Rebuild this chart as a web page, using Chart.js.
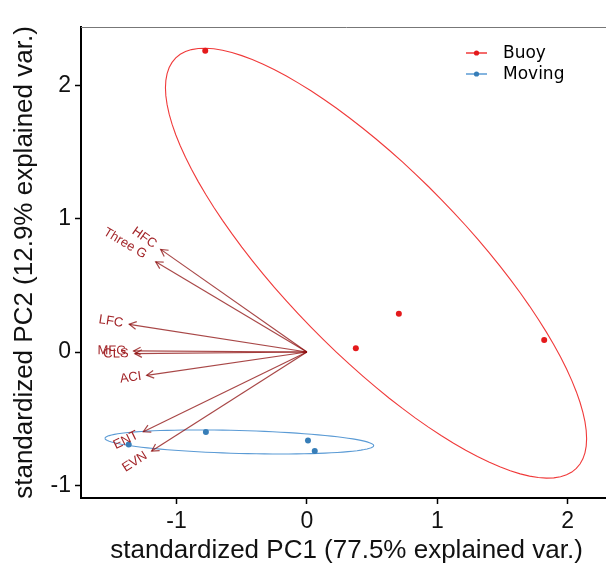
<!DOCTYPE html>
<html>
<head>
<meta charset="utf-8">
<title>PCA biplot</title>
<script src="https://cdn.jsdelivr.net/npm/chart.js@4.4.0/dist/chart.umd.min.js"></script>
<style>
  html, body { margin: 0; padding: 0; background: #fff; overflow: hidden; }
  #wrap { width: 620px; height: 575px; }
</style>
</head>
<body>
<div id="wrap"><canvas id="pca" width="620" height="575"></canvas></div>
<script>
// group scores (standardized PC1 / PC2)
var groups = ['Buoy', 'Moving'];
var buoyPC1 = [-0.78, 0.705, 0.375, 1.82];
var buoyPC2 = [2.26, 0.287, 0.028, 0.09];
var movingPC1 = [-0.775, 0.008, 0.06, -1.367];
var movingPC2 = [-0.60, -0.663, -0.743, -0.693];

// variable loadings (arrow tips)
var varNames = ['HFC', 'Three G', 'LFC', 'MFG', 'CLS', 'ACI', 'ENT', 'EVN'];
var loadPC1 = [-1.122, -1.16, -1.363, -1.33, -1.32, -1.229, -1.255, -1.191];
var loadPC2 = [0.77, 0.677, 0.208, 0.008, -0.012, -0.175, -0.598, -0.743];

var xTicks = [-1, 0, 1, 2];
var yTicks = [-1, 0, 1, 2];
var ellipseProb = 0.68;

var groupColors = ['#E41A1C', '#377EB8'];
var ellipseColors = ['#F03A3A', '#5B9BD5'];
var arrowColor = 'rgba(139,10,10,0.75)';
var labelColor = '#a3262a';

function pts(xs, ys) {
  return xs.map(function (v, i) { return { x: v, y: ys[i] }; });
}

// normal data ellipse, like ggbiplot (mean + chol(cov) * sqrt(qchisq))
function dataEllipse(xs, ys) {
  var n = xs.length, mx = 0, my = 0;
  for (var i = 0; i < n; i++) { mx += xs[i]; my += ys[i]; }
  mx /= n; my /= n;
  var sxx = 0, syy = 0, sxy = 0;
  for (var j = 0; j < n; j++) {
    sxx += (xs[j] - mx) * (xs[j] - mx);
    syy += (ys[j] - my) * (ys[j] - my);
    sxy += (xs[j] - mx) * (ys[j] - my);
  }
  sxx /= (n - 1); syy /= (n - 1); sxy /= (n - 1);
  var r11 = Math.sqrt(sxx), r12 = sxy / r11, r22 = Math.sqrt(syy - r12 * r12);
  var ed = Math.sqrt(-2 * Math.log(1 - ellipseProb));
  var out = [];
  for (var k = 0; k <= 100; k++) {
    var t = -Math.PI + 2 * Math.PI * k / 100;
    var c = Math.cos(t), s = Math.sin(t);
    out.push({ x: mx + ed * c * r11, y: my + ed * (c * r12 + s * r22) });
  }
  return out;
}

var ellipses = [dataEllipse(buoyPC1, buoyPC2), dataEllipse(movingPC1, movingPC2)];

var datasets = [
  { label: groups[0], data: pts(buoyPC1, buoyPC2), backgroundColor: groupColors[0], borderWidth: 0, pointRadius: 3 },
  { label: groups[1], data: pts(movingPC1, movingPC2), backgroundColor: groupColors[1], borderWidth: 0, pointRadius: 3 }
];
varNames.forEach(function (nm, i) {
  datasets.push({
    label: nm,
    data: [{ x: 0, y: 0 }, { x: loadPC1[i], y: loadPC2[i] }],
    showLine: true,
    borderColor: arrowColor,
    borderWidth: 1.2,
    pointRadius: 0
  });
});

var biplotPlugin = {
  id: 'biplot',
  beforeDatasetsDraw: function (chart) {
    var ctx = chart.ctx, xs = chart.scales.x, ys = chart.scales.y, a = chart.chartArea;
    ctx.save();
    // light top frame line
    ctx.strokeStyle = '#777';
    ctx.lineWidth = 1;
    ctx.beginPath();
    ctx.moveTo(a.left, a.top + 0.5);
    ctx.lineTo(a.right, a.top + 0.5);
    ctx.stroke();
    // group ellipses
    ellipses.forEach(function (e, g) {
      ctx.strokeStyle = ellipseColors[g];
      ctx.lineWidth = 1.1;
      ctx.beginPath();
      e.forEach(function (p, k) {
        var px = xs.getPixelForValue(p.x), py = ys.getPixelForValue(p.y);
        if (k === 0) ctx.moveTo(px, py); else ctx.lineTo(px, py);
      });
      ctx.stroke();
    });
    ctx.restore();
  },
  afterDatasetsDraw: function (chart) {
    var ctx = chart.ctx, xs = chart.scales.x, ys = chart.scales.y, a = chart.chartArea;
    var ox = xs.getPixelForValue(0), oy = ys.getPixelForValue(0);
    ctx.save();
    ctx.font = '13px "Liberation Sans", Arial, sans-serif';
    varNames.forEach(function (nm, i) {
      var tx = xs.getPixelForValue(loadPC1[i]), ty = ys.getPixelForValue(loadPC2[i]);
      var ang = Math.atan2(ty - oy, tx - ox);
      // arrowhead
      ctx.strokeStyle = arrowColor;
      ctx.lineWidth = 1.2;
      ctx.beginPath();
      ctx.moveTo(tx + 8 * Math.cos(ang + Math.PI - 0.5), ty + 8 * Math.sin(ang + Math.PI - 0.5));
      ctx.lineTo(tx, ty);
      ctx.lineTo(tx + 8 * Math.cos(ang + Math.PI + 0.5), ty + 8 * Math.sin(ang + Math.PI + 0.5));
      ctx.stroke();
      // label, rotated along arrow, hjust 1.25
      var w = ctx.measureText(nm).width;
      ctx.save();
      ctx.translate(tx, ty);
      ctx.rotate(loadPC1[i] < 0 ? ang + Math.PI : ang);
      ctx.fillStyle = labelColor;
      ctx.textAlign = 'right';
      ctx.textBaseline = 'middle';
      ctx.fillText(nm, -0.25 * w, 0);
      ctx.restore();
    });
    // legend
    var lx = a.right - 146, ly = a.top + 26;
    ctx.font = '17px "DejaVu Sans", sans-serif';
    ctx.textAlign = 'left';
    ctx.textBaseline = 'middle';
    groups.forEach(function (g, k) {
      var y = ly + k * 21;
      ctx.strokeStyle = ellipseColors[k];
      ctx.lineWidth = 1.5;
      ctx.beginPath();
      ctx.moveTo(lx, y);
      ctx.lineTo(lx + 21, y);
      ctx.stroke();
      ctx.fillStyle = groupColors[k];
      ctx.beginPath();
      ctx.arc(lx + 10.5, y, 2.6, 0, Math.PI * 2);
      ctx.fill();
      ctx.fillStyle = '#000';
      ctx.fillText(g, lx + 37, y + 1);
    });
    ctx.restore();
  }
};

var axisFont = { family: '"Liberation Sans", Arial, sans-serif', size: 23 };
var titleFont = { family: '"Liberation Sans", Arial, sans-serif', size: 26 };

new Chart(document.getElementById('pca'), {
  type: 'scatter',
  data: { datasets: datasets },
  plugins: [biplotPlugin],
  options: {
    responsive: false,
    animation: false,
    devicePixelRatio: 1,
    layout: { padding: { top: 27, right: 8, left: 0, bottom: 0 } },
    plugins: { legend: { display: false }, tooltip: { enabled: false } },
    scales: {
      x: {
        type: 'linear',
        min: -1.733,
        max: 2.34,
        afterBuildTicks: function (s) { s.ticks = xTicks.map(function (v) { return { value: v }; }); },
        afterFit: function (s) { s.height = 77; },
        grid: { drawOnChartArea: false, drawTicks: true, tickLength: 6, tickColor: '#000', tickWidth: 1.5 },
        border: { display: true, color: '#000', width: 2 },
        ticks: { color: '#111', font: axisFont, padding: 4, maxRotation: 0, autoSkip: false },
        title: { display: true, text: 'standardized PC1 (77.5% explained var.)', color: '#111', font: titleFont, padding: { top: 0, bottom: 9 } }
      },
      y: {
        type: 'linear',
        min: -1.095,
        max: 2.438,
        afterBuildTicks: function (s) { s.ticks = yTicks.map(function (v) { return { value: v }; }); },
        afterFit: function (s) { s.width = 81; },
        grid: { drawOnChartArea: false, drawTicks: true, tickLength: 6, tickColor: '#000', tickWidth: 1.5 },
        border: { display: true, color: '#000', width: 2 },
        ticks: { color: '#111', font: axisFont, padding: 4, autoSkip: false },
        title: { display: true, text: 'standardized PC2 (12.9% explained var.)', color: '#111', font: titleFont, padding: { top: 9, bottom: 0 } }
      }
    }
  }
});
</script>
</body>
</html>
